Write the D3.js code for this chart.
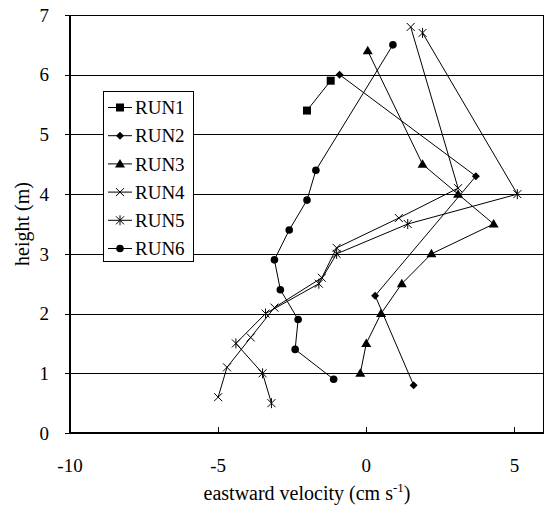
<!DOCTYPE html>
<html><head><meta charset="utf-8">
<script src="https://cdn.jsdelivr.net/npm/d3@7"></script>
</head><body style="margin:0">
<script>
const runNames = ["RUN1","RUN2","RUN3","RUN4","RUN5","RUN6"];
const run1 = [[-2.0,5.4],[-1.2,5.9]];
const run2 = [[-0.9,6.0],[3.7,4.3],[0.3,2.3],[1.6,0.8]];
const run3 = [[0.05,6.4],[1.9,4.5],[3.1,4.0],[4.3,3.5],[2.2,3.0],[1.2,2.5],[0.5,2.0],[0.0,1.5],[-0.2,1.0]];
const run4 = [[1.5,6.8],[3.1,4.1],[1.1,3.6],[-1.0,3.1],[-1.5,2.6],[-3.1,2.1],[-3.9,1.6],[-4.7,1.1],[-5.0,0.6]];
const run5 = [[1.9,6.7],[5.1,4.0],[1.4,3.5],[-1.0,3.0],[-1.6,2.5],[-3.4,2.0],[-4.4,1.5],[-3.5,1.0],[-3.2,0.5]];
const run6 = [[0.9,6.5],[-1.7,4.4],[-2.0,3.9],[-2.6,3.4],[-3.1,2.9],[-2.9,2.4],[-2.3,1.9],[-2.4,1.4],[-1.1,0.9]];
const xTicks = [-10,-5,0,5];
const yTicks = [0,1,2,3,4,5,6,7];
const markers = ["square","diamond","triangle","cross","asterisk","circle"];

const runs = [run1,run2,run3,run4,run5,run6];
const W=547,H=513;
const m={l:70,r:544,t:15,b:433};
const FF='"Liberation Serif"';
const svg=d3.select("body").append("svg").attr("width",W).attr("height",H).style("display","block");
const x=d3.scaleLinear().domain([-10,6]).range([m.l,m.r]);
const y=d3.scaleLinear().domain([0,7]).range([m.b,m.t]);

function txt(sel){ return sel.style("font-family",FF).attr("fill","#000"); }

// gridlines
svg.append("g").selectAll("line").data(yTicks.filter(d=>d>0&&d<7)).join("line")
  .attr("x1",m.l).attr("x2",m.r).attr("y1",d=>Math.round(y(d))+0.5).attr("y2",d=>Math.round(y(d))+0.5)
  .attr("stroke","#000").attr("stroke-width",1);
// frame
svg.append("rect").attr("x",m.l+0.5).attr("y",m.t+0.5).attr("width",m.r-m.l-1).attr("height",m.b-m.t)
  .attr("fill","none").attr("stroke","#000").attr("stroke-width",1);
svg.append("line").attr("x1",m.l).attr("x2",m.l).attr("y1",m.t).attr("y2",m.b+1).attr("stroke","#000").attr("stroke-width",2);
svg.append("line").attr("x1",m.l).attr("x2",m.r).attr("y1",m.b).attr("y2",m.b).attr("stroke","#000").attr("stroke-width",2);

// y ticks & labels
svg.append("g").selectAll("line").data(yTicks).join("line")
  .attr("x1",m.l-5).attr("x2",m.l).attr("y1",d=>Math.round(y(d))+0.5).attr("y2",d=>Math.round(y(d))+0.5).attr("stroke","#000");
txt(svg.append("g").selectAll("text").data(yTicks).join("text")
  .attr("x",m.l-21).attr("y",d=>y(d)).attr("dy","0.35em").attr("text-anchor","end")
  .style("font-size","19px").text(d=>String(d)));

// x ticks (inward) & labels
svg.append("g").selectAll("line").data(xTicks).join("line")
  .attr("x1",d=>Math.round(x(d))+0.5).attr("x2",d=>Math.round(x(d))+0.5).attr("y1",m.b-6).attr("y2",m.b).attr("stroke","#000");
txt(svg.append("g").selectAll("text").data(xTicks).join("text")
  .attr("x",d=>x(d)).attr("y",472).attr("text-anchor","middle")
  .style("font-size","19px").text(d=>String(d)));

// titles
const xt=txt(svg.append("text").attr("x",307).attr("y",500).attr("text-anchor","middle").style("font-size","20px"));
xt.append("tspan").text("eastward velocity (cm s");
xt.append("tspan").style("font-size","13px").attr("dy",-8).text("-1");
xt.append("tspan").attr("dy",8).text(")");
txt(svg.append("text").attr("transform","translate(29,224) rotate(-90)").attr("text-anchor","middle")
  .style("font-size","20px").text("height (m)"));

function drawMarker(g,type){
  if(type==="square") g.append("rect").attr("x",-4).attr("y",-4).attr("width",8).attr("height",8).attr("fill","#000");
  else if(type==="diamond") g.append("path").attr("d","M0,-4L4,0L0,4L-4,0Z").attr("fill","#000");
  else if(type==="triangle") g.append("path").attr("d","M0,-5L5,3.5L-5,3.5Z").attr("fill","#000");
  else if(type==="circle") g.append("circle").attr("r",3.8).attr("fill","#000");
  else if(type==="cross") g.append("path").attr("d","M-4,-4L4,4M-4,4L4,-4").attr("stroke","#000").attr("stroke-width",1).attr("fill","none");
  else if(type==="asterisk") g.append("path").attr("d","M-4,-4L4,4M-4,4L4,-4M0,-5L0,5").attr("stroke","#000").attr("stroke-width",1).attr("fill","none");
}

const line=d3.line().x(d=>x(d[0])).y(d=>y(d[1]));
runs.forEach((r,i)=>{
  const g=svg.append("g");
  g.append("path").attr("d",line(r)).attr("fill","none").attr("stroke","#000").attr("stroke-width",1);
  g.selectAll("g").data(r).join("g").attr("transform",d=>`translate(${x(d[0])},${y(d[1])})`)
    .each(function(){drawMarker(d3.select(this),markers[i]);});
});

// legend
const lg=svg.append("g");
lg.append("rect").attr("x",103.5).attr("y",91.5).attr("width",90).attr("height",170).attr("fill","#fff").attr("stroke","#000").attr("stroke-width",1);
runNames.forEach((n,i)=>{
  const cy=107.5+i*28.2;
  const e=lg.append("g").attr("transform",`translate(0,${cy})`);
  e.append("line").attr("x1",108).attr("x2",132).attr("y1",0).attr("y2",0).attr("stroke","#000");
  const mg=e.append("g").attr("transform","translate(120,0)");
  drawMarker(mg,markers[i]);
  txt(e.append("text").attr("x",135).attr("y",0).attr("dy","0.35em").style("font-size","19px").text(n));
});
</script>
</body></html>
